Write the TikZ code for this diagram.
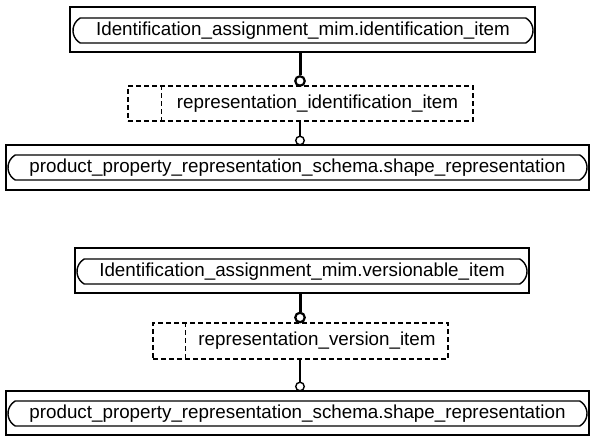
\documentclass[tikz,border=0pt]{standalone}
\usepackage{fontspec}
\setmainfont{Liberation Sans}
\usetikzlibrary{shapes.misc,calc}
\tikzset{
  outerbox/.style={draw, line width=1.4bp, inner sep=0pt},
  innerbox/.style={draw, line width=1.4bp, rounded rectangle, rounded rectangle arc length=120, inner sep=0pt, font=\fontsize{18.8bp}{21bp}\selectfont},
  selbox/.style={draw, line width=1.2bp, dash pattern=on 5bp off 3bp, inner sep=0pt},
  divline/.style={line width=1.2bp, dash pattern=on 5bp off 3bp},
  seltext/.style={inner sep=0pt, font=\fontsize{18.8bp}{21bp}\selectfont},
  thickcon/.style={line width=3bp},
  thincon/.style={line width=1.2bp},
  bigring/.style={circle, draw, fill=white, line width=2.2bp, minimum size=9.5bp, inner sep=0pt},
  smallring/.style={circle, draw, fill=white, line width=1.4bp, minimum size=8.5bp, inner sep=0pt}
}
\begin{document}
\begin{tikzpicture}[x=1bp,y=-1bp]
\useasboundingbox (0,0) rectangle (591,436);
% ---------- group 1 ----------
\node[outerbox, minimum width=465bp, minimum height=45bp] (b1) at (302.5,29.5) {};
\node[innerbox, minimum width=460bp, minimum height=25bp] (b1i) at (303,30.5) {Identification\_assignment\_mim.identification\_item};
\node[selbox, minimum width=345bp, minimum height=35bp] (d1) at (300.5,103.5) {};
\draw[divline] ([xshift=34bp]d1.north west) -- ([xshift=34bp]d1.south west);
\node[seltext] (d1t) at (317.5,103.5) {representation\_identification\_item};
\node[outerbox, minimum width=583bp, minimum height=45bp] (b3) at (297.5,167.5) {};
\node[innerbox, minimum width=579bp, minimum height=25bp] (b3i) at (297.5,167.5) {product\_property\_representation\_schema.shape\_representation};
\node[bigring] (c1) at (300,81) {};
\node[smallring] (c2) at (300,140.5) {};
\draw[thickcon] (c1.north) -- (c1.north |- b1.south);
\draw[thincon] (c2.north) -- (c2.north |- d1.south);
% ---------- group 2 ----------
\node[outerbox, minimum width=454bp, minimum height=45bp] (b4) at (302,270.5) {};
\node[innerbox, minimum width=450bp, minimum height=25bp] (b4i) at (302,271.5) {Identification\_assignment\_mim.versionable\_item};
\node[selbox, minimum width=295bp, minimum height=36bp] (d2) at (300.5,341) {};
\draw[divline] ([xshift=33bp]d2.north west) -- ([xshift=33bp]d2.south west);
\node[seltext] (d2t) at (317,341) {representation\_version\_item};
\node[outerbox, minimum width=583bp, minimum height=44bp] (b6) at (297.5,413) {};
\node[innerbox, minimum width=579bp, minimum height=25bp] (b6i) at (297.5,413.5) {product\_property\_representation\_schema.shape\_representation};
\node[bigring] (c3) at (300,317.5) {};
\node[smallring] (c4) at (300,386.5) {};
\draw[thickcon] (c3.north) -- (c3.north |- b4.south);
\draw[thincon] (c4.north) -- (c4.north |- d2.south);
\end{tikzpicture}
\end{document}
